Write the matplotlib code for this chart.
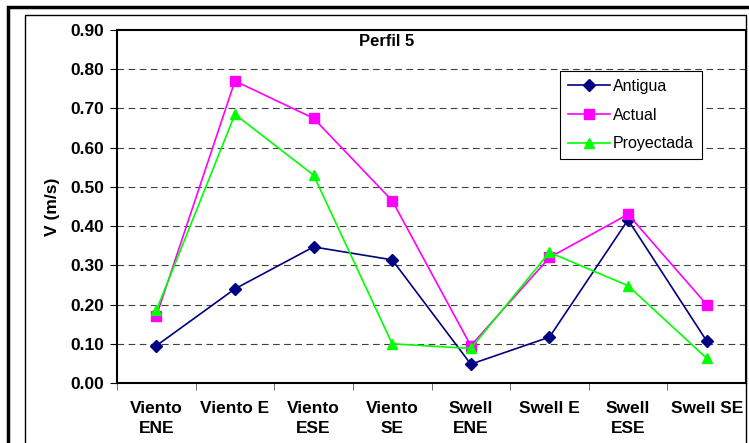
import matplotlib.pyplot as plt
import numpy as np
from matplotlib.patches import Rectangle

plt.rcParams['font.family'] = ['Liberation Sans', 'DejaVu Sans']

categorias = ['Viento\nENE', 'Viento E', 'Viento\nESE', 'Viento\nSE',
              'Swell\nENE', 'Swell E', 'Swell\nESE', 'Swell SE']
antigua = [0.095, 0.240, 0.347, 0.314, 0.048, 0.117, 0.416, 0.107]
actual = [0.170, 0.770, 0.675, 0.465, 0.095, 0.320, 0.430, 0.200]
proyectada = [0.185, 0.685, 0.530, 0.100, 0.088, 0.333, 0.248, 0.063]

fig = plt.figure(figsize=(7.49, 4.43), dpi=100)

# outer frames
fig.patches.append(Rectangle((8/749, -0.05), 1.0, (443-7)/443 + 0.05, transform=fig.transFigure,
                             fill=False, edgecolor='black', linewidth=2.5))
fig.patches.append(Rectangle((25/749, -0.05), (746-25)/749, (443-15)/443 + 0.05, transform=fig.transFigure,
                             fill=False, edgecolor='black', linewidth=1.0))

ax = fig.add_axes([117/749, 60/443, (746-117)/749, (383-30)/443])
x = np.arange(len(categorias))

ax.plot(x, antigua, color='#000080', marker='D', markersize=6, linewidth=1.2, label='Antigua')
ax.plot(x, actual, color='#FF00FF', marker='s', markersize=6.5, linewidth=1.2, label='Actual')
ax.plot(x, proyectada, color='#00FF00', marker='^', markersize=7.5, linewidth=1.2, label='Proyectada')

ax.set_xlim(-0.5, len(categorias) - 0.5)
ax.set_ylim(0, 0.9)
ax.set_yticks(np.arange(0, 0.91, 0.1))
ax.set_yticklabels(['%.2f' % v for v in np.arange(0, 0.91, 0.1)], fontsize=12.5, fontweight='bold')
ax.set_xticks(x)
ax.set_xticklabels(categorias, fontsize=12.5, fontweight='bold', linespacing=1.45)
ax.tick_params(axis='x', length=0, pad=13)
ax.set_xticks(np.arange(-0.5, len(categorias), 1), minor=True)
ax.tick_params(axis='x', which='minor', length=5, direction='out', color='#555555')
ax.tick_params(axis='y', length=5, direction='out', pad=4)

for v in np.arange(0.1, 0.85, 0.1):
    ax.axhline(v, color='black', linestyle=(0, (6, 4)), linewidth=0.8, alpha=0.75, zorder=0)

for s in ax.spines.values():
    s.set_linewidth(1.5)

ax.set_ylabel('V (m/s)', fontsize=12.5, fontweight='bold', labelpad=8)
ax.text(0.428, 0.99, 'Perfil 5', transform=ax.transAxes, ha='center', va='top',
        fontsize=12, fontweight='bold')

leg = ax.legend(loc='upper left', bbox_to_anchor=((560-117)/629, (383-71)/353), fontsize=11.5,
                frameon=True, fancybox=False, edgecolor='black', framealpha=1,
                handlelength=2.6, borderpad=0.5, labelspacing=0.85, handletextpad=0.2,
                borderaxespad=0)
leg.get_frame().set_linewidth(0.8)

fig.savefig('out.png', dpi=100)
